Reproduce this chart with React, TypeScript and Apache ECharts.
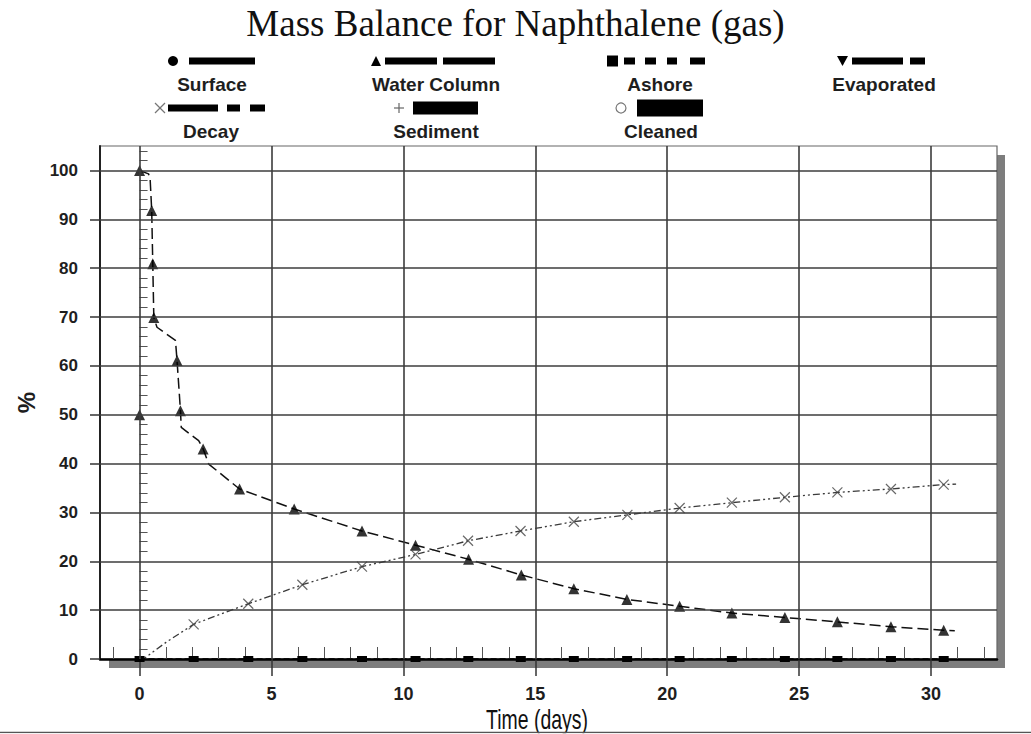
import React, { useEffect, useRef } from "react";
import * as echarts from "echarts";

const chartTitle = "Mass Balance for Naphthalene (gas)";
const xAxisTitle = "Time (days)";
const yAxisTitle = "%";

const xMajorTicks = [0, 5, 10, 15, 20, 25, 30];
const xMinorTicks = [-1, 1, 2, 3, 4, 6, 7, 8, 9, 11, 12, 13, 14, 16, 17, 18, 19, 21, 22, 23, 24, 26, 27, 28, 29, 31, 32];
const yMajorTicks = [0, 10, 20, 30, 40, 50, 60, 70, 80, 90, 100];
const yMinorTicks = [2, 4, 6, 8, 12, 14, 16, 18, 22, 24, 26, 28, 32, 34, 36, 38, 42, 44, 46, 48, 52, 54, 56, 58, 62, 64, 66, 68, 72, 74, 76, 78, 82, 84, 86, 88, 92, 94, 96, 98, 102, 104];

const legendNames = ["Surface", "Water Column", "Ashore", "Evaporated", "Decay", "Sediment", "Cleaned"];

// Water Column curve (line vertices) and its triangle markers
const waterColumnLineDays = [0, 0.34, 0.4, 0.46, 0.5, 0.54, 0.66, 1.36, 1.42, 1.55, 1.58, 2.24, 2.41, 2.62, 3.79, 5.86, 8.43, 10.46, 12.47, 14.47, 16.46, 18.47, 20.47, 22.45, 24.46, 26.45, 28.48, 30.48, 30.9];
const waterColumnLineValues = [100, 99.3, 98.3, 91.8, 80.9, 69.9, 67.9, 65.2, 61.1, 50.8, 47.4, 44.7, 43.0, 39.9, 34.8, 30.7, 26.2, 23.3, 20.4, 17.2, 14.4, 12.2, 10.8, 9.4, 8.5, 7.6, 6.6, 5.9, 5.8];
const waterColumnMarkerDays = [0, 0, 0.46, 0.5, 0.54, 1.42, 1.55, 2.41, 3.79, 5.86, 8.43, 10.46, 12.47, 14.47, 16.46, 18.47, 20.47, 22.45, 24.46, 26.45, 28.48, 30.48];
const waterColumnMarkerValues = [100, 50, 91.8, 80.9, 69.9, 61.1, 50.8, 43.0, 34.8, 30.7, 26.2, 23.3, 20.4, 17.2, 14.4, 12.2, 10.8, 9.4, 8.5, 7.6, 6.6, 5.9];

// Decay curve and its x markers
const decayLineDays = [0, 0.2, 0.6, 1.0, 2.05, 4.12, 6.17, 8.43, 10.46, 12.45, 14.44, 16.46, 18.49, 20.47, 22.45, 24.46, 26.45, 28.48, 30.48, 30.95];
const decayLineValues = [0, 0.2, 1.8, 3.4, 7.1, 11.3, 15.2, 18.9, 21.4, 24.2, 26.2, 28.1, 29.5, 30.9, 32.0, 33.1, 34.1, 34.8, 35.7, 35.8];
const decayMarkerDays = [2.05, 4.12, 6.17, 8.43, 10.46, 12.45, 14.44, 16.46, 18.49, 20.47, 22.45, 24.46, 26.45, 28.48, 30.48];
const decayMarkerValues = [7.1, 11.3, 15.2, 18.9, 21.4, 24.2, 26.2, 28.1, 29.5, 30.9, 32.0, 33.1, 34.1, 34.8, 35.7];

// Ashore (stays at zero)
const ashoreDays = [0, 2.05, 4.12, 6.17, 8.43, 10.46, 12.46, 14.45, 16.46, 18.48, 20.47, 22.45, 24.46, 26.45, 28.48, 30.48];
const ashoreValues = [0, 0, 0, 0, 0, 0, 0, 0, 0, 0, 0, 0, 0, 0, 0, 0];

const zip = (a: number[], b: number[]) => a.map((v, i) => [v, b[i]]);

const SANS = "Liberation Sans, Arial, sans-serif";
const legendFont = `bold 19px ${SANS}`;

function legendText(text: string, x: number, y: number) {
  return {
    type: "text",
    x,
    y,
    style: { text, font: legendFont, fill: "#1e1e1e", align: "center", verticalAlign: "middle" },
  };
}
function bar(x: number, y: number, w: number, h: number) {
  return { type: "rect", shape: { x, y, width: w, height: h }, style: { fill: "#000" } };
}

function buildLegend() {
  const r1 = 61, t1 = 84, r2 = 108, t2 = 131;
  return [
    // Surface
    { type: "circle", shape: { cx: 173, cy: r1, r: 5 }, style: { fill: "#000" } },
    bar(189, r1 - 3.5, 66, 7),
    legendText(legendNames[0], 212, t1),
    // Water Column
    { type: "polygon", shape: { points: [[371, r1 + 5], [381, r1 + 5], [376, r1 - 5]] }, style: { fill: "#000" } },
    bar(385, r1 - 3.5, 52, 7),
    bar(443, r1 - 3.5, 52, 7),
    legendText(legendNames[1], 436, t1),
    // Ashore
    bar(607, r1 - 5.5, 11, 11),
    bar(624, r1 - 3.5, 11, 7),
    bar(645, r1 - 3.5, 11, 7),
    bar(667, r1 - 3.5, 10, 7),
    bar(690, r1 - 3.5, 15, 7),
    legendText(legendNames[2], 660, t1),
    // Evaporated
    { type: "polygon", shape: { points: [[837, r1 - 5], [848, r1 - 5], [842.5, r1 + 5]] }, style: { fill: "#000" } },
    bar(852, r1 - 3.5, 51, 7),
    bar(910, r1 - 3.5, 15, 7),
    legendText(legendNames[3], 884, t1),
    // Decay
    { type: "line", shape: { x1: 155, y1: r2 - 5, x2: 165, y2: r2 + 5 }, style: { stroke: "#777", lineWidth: 1.2 } },
    { type: "line", shape: { x1: 165, y1: r2 - 5, x2: 155, y2: r2 + 5 }, style: { stroke: "#777", lineWidth: 1.2 } },
    bar(168, r2 - 3.5, 50, 7),
    bar(227, r2 - 3.5, 13, 7),
    bar(250, r2 - 3.5, 15, 7),
    legendText(legendNames[4], 211, t2),
    // Sediment
    { type: "line", shape: { x1: 394, y1: r2, x2: 404, y2: r2 }, style: { stroke: "#666", lineWidth: 1.2 } },
    { type: "line", shape: { x1: 399, y1: r2 - 5, x2: 399, y2: r2 + 5 }, style: { stroke: "#666", lineWidth: 1.2 } },
    bar(413, r2 - 6.5, 65, 13),
    legendText(legendNames[5], 436, t2),
    // Cleaned
    { type: "circle", shape: { cx: 621, cy: r2, r: 5 }, style: { fill: "none", stroke: "#777", lineWidth: 1.2 } },
    bar(637, r2 - 8.5, 66, 17),
    legendText(legendNames[6], 661, t2),
  ];
}

export default function App() {
  const ref = useRef<HTMLDivElement>(null);

  useEffect(() => {
    if (!ref.current) return;
    const chart = echarts.init(ref.current, null, { renderer: "svg" });

    const option = {
      animation: false,
      backgroundColor: "#ffffff",
      title: {
        text: chartTitle,
        left: "center",
        top: 0,
        padding: [5, 0, 5, 24],
        textStyle: { fontFamily: "Liberation Serif, Times New Roman, serif", fontSize: 37, fontWeight: "normal", color: "#111" },
      },
      grid: {
        left: 100,
        right: 34,
        top: 146,
        bottom: 75,
        show: true,
        backgroundColor: "#ffffff",
        borderColor: "#666",
        borderWidth: 1.2,
        z: 0,
      },
      graphic: [
        { type: "rect", z: -5, shape: { x: 109, y: 155, width: 896, height: 513 }, style: { fill: "#7d7d7d" } },
        {
          type: "text",
          z: 9,
          x: 537,
          y: 720,
          scaleX: 0.72,
          style: { text: xAxisTitle, font: `normal 27px ${SANS}`, fill: "#111", align: "center", verticalAlign: "middle" },
        },
        { type: "line", z: 10, shape: { x1: 0, y1: 732.5, x2: 1031, y2: 732.5 }, style: { stroke: "#555", lineWidth: 1.5 } },
        { type: "rect", z: 10, shape: { x: 0, y: 733.3, width: 1031, height: 2 }, style: { fill: "#fff" } },
        ...buildLegend(),
      ],
      xAxis: [
        {
          type: "value",
          min: -1.5,
          max: 32.5,
          position: "bottom",
          axisLine: { show: true, onZero: false, lineStyle: { color: "#000", width: 2.5 } },
          axisTick: { show: true, customValues: xMajorTicks, length: 17, lineStyle: { color: "#333", width: 1.5 } },
          axisLabel: { customValues: xMajorTicks, margin: 26, fontFamily: SANS, fontWeight: "bold", fontSize: 18, color: "#1e1e1e" },
          splitLine: { show: false },
        },
        {
          type: "value",
          min: -1.5,
          max: 32.5,
          position: "bottom",
          axisLine: { show: false },
          axisTick: { show: true, inside: true, customValues: xMinorTicks, length: 12, lineStyle: { color: "#555", width: 1 } },
          axisLabel: { show: false },
          splitLine: { show: false },
        },
      ],
      yAxis: [
        {
          type: "value",
          min: 0,
          max: 105,
          position: "left",
          name: yAxisTitle,
          nameLocation: "middle",
          nameGap: 60,
          nameRotate: 90,
          nameTextStyle: { fontFamily: SANS, fontWeight: "bold", fontSize: 24, color: "#1e1e1e" },
          axisLine: { show: true, onZero: false, lineStyle: { color: "#222", width: 2 } },
          axisTick: { show: true, customValues: yMajorTicks, length: 10, lineStyle: { color: "#333", width: 1.5 } },
          axisLabel: { customValues: yMajorTicks, margin: 22, fontFamily: SANS, fontWeight: "bold", fontSize: 17, color: "#1e1e1e" },
          splitLine: { show: false },
        },
        {
          type: "value",
          min: 0,
          max: 105,
          position: "left",
          offset: 0,
          axisLine: { show: false },
          axisTick: { show: true, inside: true, customValues: yMinorTicks, length: 8, lineStyle: { color: "#555", width: 1 } },
          axisLabel: { show: false },
          splitLine: { show: false },
        },
      ],
      series: [
        {
          name: "grid",
          type: "line",
          z: 1,
          silent: true,
          data: zip(xMajorTicks, xMajorTicks.map(() => 0)),
          symbol: "none",
          lineStyle: { width: 0, opacity: 0 },
          markLine: {
            silent: true,
            symbol: ["none", "none"],
            label: { show: false },
            lineStyle: { color: "#3c3c3c", width: 1.6, type: "solid" },
            data: [
              ...xMajorTicks.map((v) => ({ xAxis: v })),
              ...yMajorTicks.filter((v) => v > 0).map((v) => ({ yAxis: v })),
            ],
          },
        },
        {
          name: legendNames[1],
          type: "line",
          z: 3,
          data: zip(waterColumnLineDays, waterColumnLineValues),
          symbol: "none",
          lineStyle: { color: "#111", width: 1.5, type: [11, 5] },
        },
        {
          name: legendNames[1] + " markers",
          type: "scatter",
          z: 4,
          data: zip(waterColumnMarkerDays, waterColumnMarkerValues),
          symbol: "triangle",
          symbolSize: 11,
          itemStyle: { color: "#000" },
        },
        {
          name: legendNames[4],
          type: "line",
          z: 3,
          data: zip(decayLineDays, decayLineValues),
          symbol: "none",
          lineStyle: { color: "#3a3a3a", width: 1.3, type: [7, 3, 2, 3, 2, 3] },
        },
        {
          name: legendNames[4] + " markers",
          type: "scatter",
          z: 4,
          data: zip(decayMarkerDays, decayMarkerValues),
          symbol: "path://M0,0L10,10M10,0L0,10",
          symbolSize: 10,
          itemStyle: { color: "none", borderColor: "#444", borderWidth: 1.2 },
        },
        {
          name: legendNames[2],
          type: "line",
          z: 4,
          data: zip(ashoreDays, ashoreValues),
          symbol: "rect",
          symbolSize: [10, 6],
          showAllSymbol: true,
          itemStyle: { color: "#000" },
          lineStyle: { color: "#000", width: 1.5, type: "dashed" },
        },
      ],
    };

    chart.setOption(option as any);
    return () => chart.dispose();
  }, []);

  return (
    <div
      ref={ref}
      style={{ position: "fixed", left: 0, top: 0, width: 1031, height: 734, background: "#fff" }}
    />
  );
}
